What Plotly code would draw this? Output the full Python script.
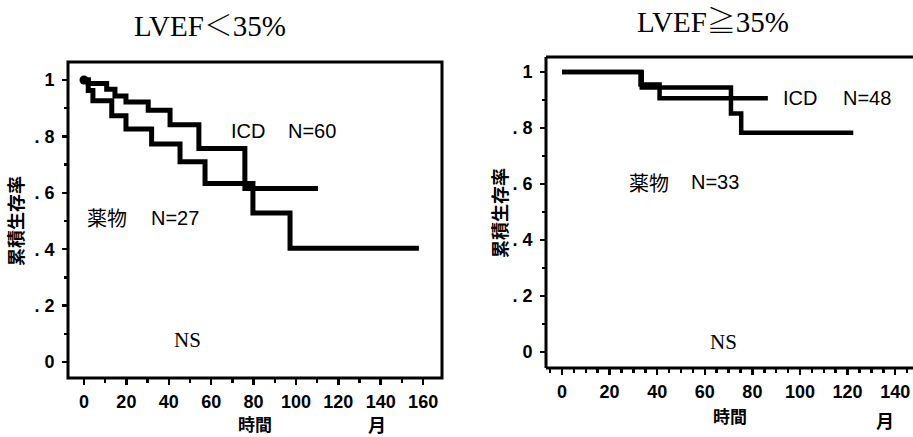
import plotly.graph_objects as go

# ---------------- data ----------------
# Left panel: LVEF < 35%
icd_lt_t = [0, 2.0, 10.7, 14.6, 19.8, 30.3, 40.6, 54.2, 75.9, 110.4]
icd_lt_s = [1.0, 0.988, 0.967, 0.943, 0.922, 0.893, 0.841, 0.757, 0.615, 0.615]
drug_lt_t = [0, 2.0, 4.2, 13.1, 19.8, 31.9, 45.3, 57.1, 79.7, 97.2, 158.0]
drug_lt_s = [1.0, 0.963, 0.926, 0.873, 0.826, 0.773, 0.710, 0.633, 0.528, 0.403, 0.403]

# Right panel: LVEF >= 35%
icd_rt_t = [0, 33.0, 41.0, 86.5]
icd_rt_s = [1.0, 0.955, 0.906, 0.906]
drug_rt_t = [0, 33.5, 71.0, 75.3, 122.4]
drug_rt_s = [1.0, 0.945, 0.852, 0.783, 0.783]

x_ticks_left = [0, 20, 40, 60, 80, 100, 120, 140, 160]
x_ticks_right = [0, 20, 40, 60, 80, 100, 120, 140]
y_ticks = [0, 0.2, 0.4, 0.6, 0.8, 1.0]
y_tick_text = ["0", ". 2", ". 4", ". 6", ". 8", "1"]

titles = ["LVEF＜35%", "LVEF≧35%"]
y_title = "累積生存率"
x_title = "時間"
unit = "月"

# ---------------- layout helpers ----------------
W, H = 913, 437


def px(x):
    return x / W


def py(y):
    return 1 - y / H


TICKFONT = dict(family="Liberation Sans Narrow, Liberation Sans, Arial", size=18,
                color="black", weight="bold")
CJK = "Noto Sans CJK JP"
SERIF = "Liberation Serif, Noto Serif CJK JP, Noto Sans CJK JP, serif"
SANS = "Liberation Sans, Arial, sans-serif"

fig = go.Figure()

line_l = dict(color="black", width=5, shape="hv")
line_r = dict(color="black", width=4.5, shape="hv")

fig.add_trace(go.Scatter(x=icd_lt_t, y=icd_lt_s, mode="lines", line=line_l,
                         xaxis="x", yaxis="y", name="ICD N=60"))
fig.add_trace(go.Scatter(x=drug_lt_t, y=drug_lt_s, mode="lines", line=line_l,
                         xaxis="x", yaxis="y", name="薬物 N=27"))
fig.add_trace(go.Scatter(x=[icd_lt_t[0]], y=[icd_lt_s[0]], mode="markers",
                         marker=dict(color="black", size=9),
                         xaxis="x", yaxis="y", showlegend=False))
fig.add_trace(go.Scatter(x=icd_rt_t, y=icd_rt_s, mode="lines", line=line_r,
                         xaxis="x2", yaxis="y2", name="ICD N=48"))
fig.add_trace(go.Scatter(x=drug_rt_t, y=drug_rt_s, mode="lines", line=line_r,
                         xaxis="x2", yaxis="y2", name="薬物 N=33"))


def xax(domain, rng, ticks, anchor, minor_dtick):
    return dict(domain=domain, range=rng, tickvals=ticks, anchor=anchor,
                showline=False,
                ticks="outside", ticklen=6, tickwidth=2.5, tickcolor="black",
                minor=dict(dtick=minor_dtick, ticks="outside", ticklen=4,
                           tickwidth=2.5, tickcolor="black"),
                tickfont=TICKFONT, ticklabelstandoff=1,
                showgrid=False, zeroline=False, fixedrange=True)


def yax(domain, rng, anchor):
    return dict(domain=domain, range=rng, tickvals=y_ticks, ticktext=y_tick_text,
                anchor=anchor, showline=False,
                ticks="outside", ticklen=5, tickwidth=2.5, tickcolor="black",
                minor=dict(dtick=0.1, ticks="outside", ticklen=3, tickwidth=2.5,
                           tickcolor="black"),
                tickfont=TICKFONT, ticklabelstandoff=4,
                showgrid=False, zeroline=False, fixedrange=True)


fig.update_layout(
    width=W, height=H,
    margin=dict(l=0, r=0, t=0, b=0),
    paper_bgcolor="white", plot_bgcolor="white",
    showlegend=False,
    xaxis=xax([px(68), px(442)], [-7.55, 168.9], x_ticks_left, "y", 10),
    yaxis=yax([py(378), py(62)], [-0.0567, 1.0638], "x"),
    xaxis2=xax([px(546), 1.0], [-6.73, 147.5], x_ticks_right, "y2", 5),
    yaxis2=yax([py(368), py(57)], [-0.0571, 1.0536], "x2"),
)

# plot frames
FRAME = dict(color="black", width=3)
fig.add_shape(type="rect", xref="x domain", yref="y domain",
              x0=0, x1=1, y0=0, y1=1, line=FRAME, layer="above")
for (a, b, c, d) in [(0, 0, 0, 1), (0, 0, 1.02, 0), (0, 1, 1.02, 1)]:
    fig.add_shape(type="line", xref="x2 domain", yref="y2 domain",
                  x0=a, y0=b, x1=c, y1=d, line=FRAME, layer="above")


def note(text, x, y, size, family, color="black", weight="normal", angle=0):
    fig.add_annotation(text=text, x=px(x), y=py(y), xref="paper", yref="paper",
                       showarrow=False, xanchor="center", yanchor="middle",
                       textangle=angle,
                       font=dict(size=size, family=family, color=color,
                                 weight=weight))


# titles
note(titles[0], 210, 26, 29, SERIF)
note(titles[1], 713, 22, 29, SERIF)

# axis titles
note(y_title, 15, 221, 18, CJK, weight="bold", angle=-90)
note(y_title, 499, 213, 18, CJK, weight="bold", angle=-90)
note(x_title, 255, 423, 17, CJK, weight="bold")
note(unit, 377, 424, 18, CJK, weight="bold")
note(x_title, 730, 415, 17, CJK, weight="bold")
note(unit, 885, 420, 18, CJK, weight="bold")

# curve labels
note("ICD", 248, 131, 20, SANS)
note("N=60", 312, 131, 20, SANS)
note("薬物", 107, 218, 20, CJK)
note("N=27", 175, 218, 20, SANS)
note("ICD", 800, 98, 20, SANS)
note("N=48", 867, 98, 20, SANS)
note("薬物", 649, 182, 20, CJK)
note("N=33", 715, 182, 20, SANS)

# significance
note("NS", 187, 340, 21, SERIF)
note("NS", 723, 342, 21, SERIF)

fig.write_html("out.html",
               config={"displayModeBar": False, "staticPlot": True},
               post_script="document.body.style.margin='0';"
                           "document.body.style.overflow='hidden';")
